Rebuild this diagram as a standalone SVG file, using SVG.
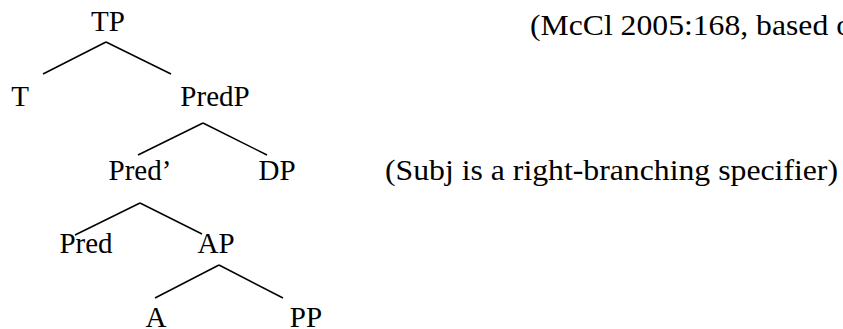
<svg xmlns="http://www.w3.org/2000/svg" width="843" height="329" viewBox="0 0 843 329" font-family="Liberation Serif, Times New Roman, serif">
<style>
text{font-size:29px;fill:#000}
.n{text-anchor:middle}
.e{stroke:#000;stroke-width:1.5;fill:none}
</style>
<rect width="843" height="329" fill="#fff"/>
<g id="connectors">
<line class="e" x1="106" y1="42" x2="43" y2="74"/>
<line class="e" x1="106" y1="42" x2="171" y2="74"/>
<line class="e" x1="203" y1="123" x2="138" y2="155"/>
<line class="e" x1="203" y1="123" x2="267" y2="155"/>
<line class="e" x1="140" y1="203" x2="75" y2="235"/>
<line class="e" x1="140" y1="203" x2="202" y2="234"/>
<line class="e" x1="219" y1="265" x2="155" y2="298"/>
<line class="e" x1="219" y1="265" x2="283" y2="298"/>
</g>
<g id="TP"><text class="n" x="108" y="31">TP</text></g>
<g id="T"><text class="n" x="20" y="106">T</text></g>
<g id="PredP"><text class="n" x="215" y="106">PredP</text></g>
<g id="PredBar"><text class="n" x="140" y="180">Pred’</text></g>
<g id="DP"><text class="n" x="277" y="180">DP</text></g>
<g id="Pred"><text class="n" x="86" y="253">Pred</text></g>
<g id="AP"><text class="n" x="216" y="253">AP</text></g>
<g id="A"><text class="n" x="156" y="327">A</text></g>
<g id="PP"><text class="n" x="306" y="327">PP</text></g>
<g id="note1"><text x="530" y="35" textLength="322" lengthAdjust="spacingAndGlyphs">(McCl 2005:168, based o</text></g>
<g id="note2"><text x="385" y="180" textLength="453" lengthAdjust="spacingAndGlyphs">(Subj is a right-branching specifier)</text></g>
</svg>
